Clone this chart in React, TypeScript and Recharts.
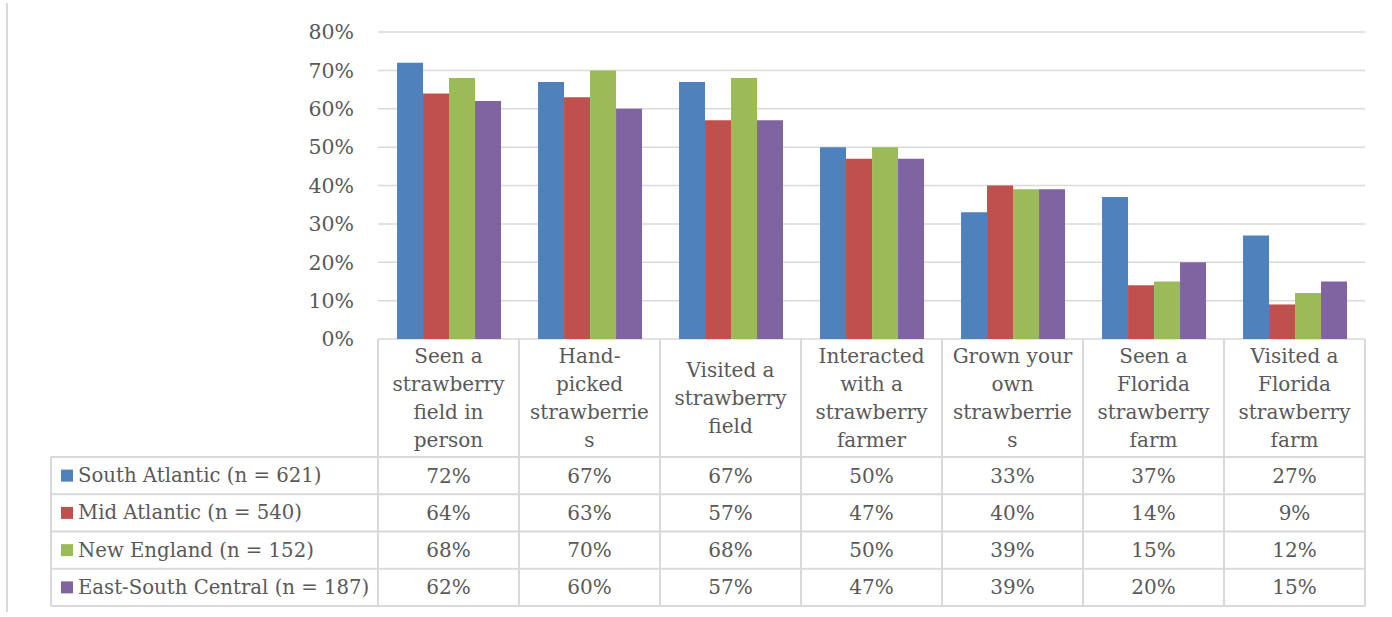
import { BarChart, Bar, XAxis, YAxis, CartesianGrid } from "recharts";

const categories = [
  "Seen a strawberry field in person",
  "Hand-picked strawberries",
  "Visited a strawberry field",
  "Interacted with a strawberry farmer",
  "Grown your own strawberries",
  "Seen a Florida strawberry farm",
  "Visited a Florida strawberry farm",
];

// wrapped the same way as the table header in the original
const categoryLines = [
  ["Seen a", "strawberry", "field in", "person"],
  ["Hand-", "picked", "strawberrie", "s"],
  ["Visited a", "strawberry", "field"],
  ["Interacted", "with a", "strawberry", "farmer"],
  ["Grown your", "own", "strawberrie", "s"],
  ["Seen a", "Florida", "strawberry", "farm"],
  ["Visited a", "Florida", "strawberry", "farm"],
];

const seriesNames = [
  "South Atlantic (n = 621)",
  "Mid Atlantic (n = 540)",
  "New England (n = 152)",
  "East-South Central (n = 187)",
];

const southAtlantic = [72, 67, 67, 50, 33, 37, 27];
const midAtlantic = [64, 63, 57, 47, 40, 14, 9];
const newEngland = [68, 70, 68, 50, 39, 15, 12];
const eastSouthCentral = [62, 60, 57, 47, 39, 20, 15];

const yTicks = [0, 10, 20, 30, 40, 50, 60, 70, 80];

const series = [southAtlantic, midAtlantic, newEngland, eastSouthCentral];
const COLORS = ["#4F81BD", "#C0504D", "#9BBB59", "#8064A2"];

const data = categories.map((name, i) => ({
  name,
  s0: southAtlantic[i],
  s1: midAtlantic[i],
  s2: newEngland[i],
  s3: eastSouthCentral[i],
}));

const FONT = "'DejaVu Serif', serif";
const TEXT = "#595959";
const LINE = "#D9D9D9";
const HEADER_H = 118;
const ROW_H = 37.25;
const LEGEND_LEFT = 51;
const LINE_H = 27.7;

function ColumnTick(props: any) {
  const { x, y, payload } = props;
  const idx = payload?.index ?? props.index ?? 0;
  const half = payload?.offset || 70.5;
  const left = x - half;
  const right = x + half;
  const lines = categoryLines[idx] || [String(payload.value)];
  const startY = y + HEADER_H / 2 - ((lines.length - 1) * LINE_H) / 2;
  const tableBottom = y + HEADER_H + ROW_H * series.length;
  const rowYs = series.map((_, r) => y + HEADER_H + ROW_H * r).concat(tableBottom);

  return (
    <g fontFamily={FONT} fill={TEXT}>
      {lines.map((t, i) => (
        <text
          key={i}
          x={x}
          y={startY + i * LINE_H}
          textAnchor="middle"
          dominantBaseline="central"
          fontSize={20}
          fill={TEXT}
        >
          {t}
        </text>
      ))}
      <line x1={right} x2={right} y1={y} y2={tableBottom} stroke={LINE} strokeWidth={2} />
      {idx === 0 && (
        <line x1={left} x2={left} y1={y} y2={tableBottom} stroke={LINE} strokeWidth={2} />
      )}
      {rowYs.map((ry, i) => (
        <line
          key={"h" + i}
          x1={idx === 0 ? LEGEND_LEFT : left}
          x2={right}
          y1={ry}
          y2={ry}
          stroke={LINE}
          strokeWidth={2}
        />
      ))}
      {series.map((vals, r) => (
        <text
          key={"v" + r}
          x={x}
          y={y + HEADER_H + ROW_H * (r + 0.5)}
          textAnchor="middle"
          dominantBaseline="central"
          fontSize={20}
          fill={TEXT}
        >
          {vals[idx]}%
        </text>
      ))}
      {idx === 0 && (
        <g>
          <line
            x1={LEGEND_LEFT}
            x2={LEGEND_LEFT}
            y1={y + HEADER_H}
            y2={tableBottom}
            stroke={LINE}
            strokeWidth={2}
          />
          {seriesNames.map((name, r) => {
            const cy = y + HEADER_H + ROW_H * (r + 0.5);
            return (
              <g key={"l" + r}>
                <rect x={61} y={cy - 6} width={12} height={12} fill={COLORS[r]} />
                <text
                  x={78}
                  y={cy}
                  dominantBaseline="central"
                  fontSize={19.7}
                  fill={TEXT}
                >
                  {name}
                </text>
              </g>
            );
          })}
        </g>
      )}
    </g>
  );
}

export default function App() {
  return (
    <div
      style={{
        position: "absolute",
        left: 0,
        top: 0,
        width: 1392,
        height: 617,
        background: "#fff",
      }}
    >
      <div
        style={{
          position: "absolute",
          left: 6,
          top: 3,
          width: 2,
          height: 609,
          background: LINE,
        }}
      />
      <BarChart
        width={1392}
        height={617}
        data={data}
        margin={{ top: 32, right: 27, bottom: 0, left: 318 }}
        barGap={0}
        barCategoryGap="13.5%"
      >
        <CartesianGrid vertical={false} stroke={LINE} strokeWidth={1.5} />
        <YAxis
          width={60}
          domain={[0, 80]}
          ticks={yTicks}
          tickFormatter={(v) => `${v}%`}
          axisLine={false}
          tickLine={false}
          tickSize={0}
          tickMargin={24}
          tick={{ fill: TEXT, fontSize: 20.5, fontFamily: FONT }}
        />
        <XAxis
          dataKey="name"
          height={278}
          interval={0}
          axisLine={false}
          tickLine={false}
          tickSize={0}
          tickMargin={0}
          tick={<ColumnTick />}
        />
        {series.map((_, i) => (
          <Bar
            key={i}
            dataKey={"s" + i}
            name={seriesNames[i]}
            fill={COLORS[i]}
            isAnimationActive={false}
          />
        ))}
      </BarChart>
    </div>
  );
}
